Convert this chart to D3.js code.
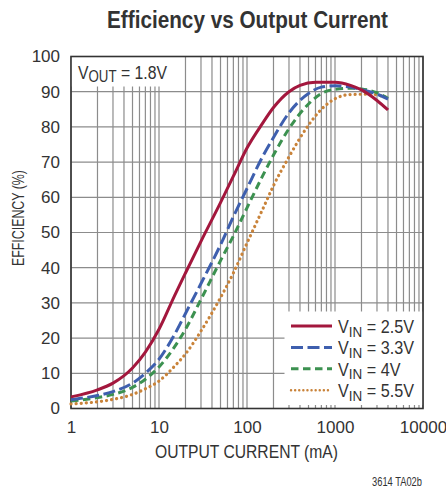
<!DOCTYPE html>
<html>
<head>
<meta charset="utf-8">
<script src="https://cdn.jsdelivr.net/npm/d3@7"></script>
<style>
  html, body { margin: 0; padding: 0; background: #fff; }
  svg { display: block; font-family: "Liberation Sans", Arial, sans-serif; }
</style>
</head>
<body>
<div id="chart"></div>
<script>
// values (current in mA, efficiency in %)
const VIN25_I = [1, 2, 3, 5, 7, 10, 15, 20, 30, 50, 70, 100, 150, 200, 300, 400, 600, 1000, 1500, 2000, 3000, 4000];
const VIN25_EFF = [3.3, 5.3, 7.2, 11.5, 16, 22.5, 32, 38.5, 47.5, 58.5, 66, 74, 81, 85.5, 90, 91.8, 92.7, 92.7, 91.8, 90.5, 87.5, 84.8];

const VIN33_I = [1, 2, 3, 5, 7, 10, 15, 20, 30, 50, 70, 100, 150, 200, 300, 500, 700, 1000, 1500, 2000, 3000, 4000];
const VIN33_EFF = [2.5, 3.7, 4.8, 7.2, 10, 14, 21, 27, 35.5, 46.5, 54.5, 62.5, 71.5, 77, 84, 89.5, 91.3, 91.7, 91.3, 90.6, 89.3, 87.9];

const VIN4_I = [1, 2, 3, 5, 7, 10, 15, 20, 30, 50, 70, 100, 150, 200, 300, 500, 700, 1000, 1500, 2000, 3000, 4000];
const VIN4_EFF = [2.1, 3.1, 4, 6, 8.3, 11.8, 17.5, 22.5, 31, 42, 49, 57, 66, 72, 79.5, 86.5, 89.5, 90.7, 91, 90.8, 89.7, 88.1];

const VIN55_I = [1, 2, 3, 5, 7, 10, 15, 20, 30, 50, 70, 100, 150, 200, 300, 500, 700, 1000, 1500, 2500, 4000];
const VIN55_EFF = [1.3, 1.9, 2.6, 4, 5.6, 7.8, 12, 15.5, 22, 31.5, 38.5, 47, 56.5, 63.3, 71.5, 80.5, 85, 88, 89.2, 89.3, 88.3];

const SERIES_NAMES = ["2.5V", "3.3V", "4V", "5.5V"];
const X_TICKS = [1, 10, 100, 1000, 10000];
const Y_TICKS = [0, 10, 20, 30, 40, 50, 60, 70, 80, 90, 100];

const WIDTH = 446;
const HEIGHT = 489;
const PLOT = { LEFT: 71, RIGHT: 423, TOP: 56.5, BOTTOM: 408.5 };
const TEXT_COLOR = "#333";

const SVG = d3.select("#chart").append("svg")
  .attr("width", WIDTH)
  .attr("height", HEIGHT);

const X_SCALE = d3.scaleLog().domain([1, 10000]).range([PLOT.LEFT, PLOT.RIGHT]);
const Y_SCALE = d3.scaleLinear().domain([0, 100]).range([PLOT.BOTTOM, PLOT.TOP]);

// squeeze a text (with tspans) horizontally to a given width, like a condensed face
const fitWidth = (node, x, y, width, anchor) => {
  const w = node.node().getComputedTextLength();
  const s = width / w;
  const x0 = anchor === "middle" ? x - width / 2 : x;
  node.attr("transform", "translate(" + x0 + "," + y + ") scale(" + s + ",1)");
  return s;
};

// title
SVG.append("text")
  .attr("x", 247.5)
  .attr("y", 27.5)
  .attr("text-anchor", "middle")
  .attr("font-size", 24)
  .attr("font-weight", "bold")
  .attr("fill", TEXT_COLOR)
  .attr("textLength", 281)
  .attr("lengthAdjust", "spacingAndGlyphs")
  .text("Efficiency vs Output Current");

// grid
const X_GRID = [];
[1, 10, 100, 1000].forEach((d) => {
  for (let k = 1; k <= 9; k++) X_GRID.push(d * k);
});
X_GRID.push(10000);

const GRID = SVG.append("g").attr("stroke", "#8c8c8c").attr("stroke-width", 1.2);
GRID.selectAll(".vgrid")
  .data(X_GRID)
  .enter()
  .append("line")
  .attr("x1", (d) => X_SCALE(d))
  .attr("x2", (d) => X_SCALE(d))
  .attr("y1", PLOT.TOP)
  .attr("y2", PLOT.BOTTOM);
GRID.selectAll(".hgrid")
  .data(Y_TICKS)
  .enter()
  .append("line")
  .attr("x1", PLOT.LEFT)
  .attr("x2", PLOT.RIGHT)
  .attr("y1", (d) => Y_SCALE(d))
  .attr("y2", (d) => Y_SCALE(d));

// white boxes behind the labels
SVG.append("rect")
  .attr("x", PLOT.LEFT).attr("y", PLOT.TOP)
  .attr("width", 101).attr("height", 30)
  .attr("fill", "#fff");
SVG.append("rect")
  .attr("x", 284.5).attr("y", 311.5)
  .attr("width", PLOT.RIGHT - 284.5).attr("height", 93.5)
  .attr("fill", "#fff");

// frame
SVG.append("rect")
  .attr("x", PLOT.LEFT).attr("y", PLOT.TOP)
  .attr("width", PLOT.RIGHT - PLOT.LEFT)
  .attr("height", PLOT.BOTTOM - PLOT.TOP)
  .attr("fill", "none")
  .attr("stroke", "#333")
  .attr("stroke-width", 1.6);

// axes
const X_AXIS = d3.axisBottom(X_SCALE)
  .tickValues(X_TICKS)
  .tickFormat(d3.format("d"))
  .tickSize(0)
  .tickPadding(12.5);
const Y_AXIS = d3.axisLeft(Y_SCALE)
  .tickValues(Y_TICKS)
  .tickFormat(d3.format("d"))
  .tickSize(0)
  .tickPadding(11);

const X_G = SVG.append("g")
  .attr("transform", "translate(0," + PLOT.BOTTOM + ")")
  .call(X_AXIS);
const Y_G = SVG.append("g")
  .attr("transform", "translate(" + PLOT.LEFT + ",0)")
  .call(Y_AXIS);
[X_G, Y_G].forEach((g) => {
  g.select(".domain").remove();
  g.selectAll("text")
    .attr("font-family", "'Liberation Sans', Arial, sans-serif")
    .attr("font-size", 17)
    .attr("fill", TEXT_COLOR);
});

SVG.append("text")
  .attr("x", 246.5)
  .attr("y", 458)
  .attr("text-anchor", "middle")
  .attr("font-size", 18.5)
  .attr("fill", TEXT_COLOR)
  .attr("textLength", 183)
  .attr("lengthAdjust", "spacingAndGlyphs")
  .text("OUTPUT CURRENT (mA)");

SVG.append("text")
  .attr("transform", "rotate(-90)")
  .attr("x", -218)
  .attr("y", 23.5)
  .attr("text-anchor", "middle")
  .attr("font-size", 16.5)
  .attr("fill", TEXT_COLOR)
  .attr("textLength", 96)
  .attr("lengthAdjust", "spacingAndGlyphs")
  .text("EFFICIENCY (%)");

// VOUT label
const VOUT = SVG.append("text")
  .attr("font-size", 19)
  .attr("fill", TEXT_COLOR);
VOUT.append("tspan").text("V");
VOUT.append("tspan").attr("dy", 3.5).attr("font-size", 16).text("OUT");
VOUT.append("tspan").attr("dy", -3.5).text(" = 1.8V");
fitWidth(VOUT, 78, 78.5, 89, "start");

// curves
const SERIES = [
  { name: SERIES_NAMES[0], i: VIN25_I, eff: VIN25_EFF, color: "#a3173d", dash: null, cap: "butt" },
  { name: SERIES_NAMES[1], i: VIN33_I, eff: VIN33_EFF, color: "#3e5fae", dash: "12,4.5", cap: "butt" },
  { name: SERIES_NAMES[2], i: VIN4_I, eff: VIN4_EFF, color: "#3c9150", dash: "7.5,4.5", cap: "butt" },
  { name: SERIES_NAMES[3], i: VIN55_I, eff: VIN55_EFF, color: "#c9833a", dash: "0.1,5", cap: "round" }
];

const LINE = d3.line()
  .x((d) => X_SCALE(d[0]))
  .y((d) => Y_SCALE(d[1]))
  .curve(d3.curveMonotoneX);

SVG.selectAll(".curve")
  .data(SERIES.slice().reverse())
  .enter()
  .append("path")
  .attr("class", "curve")
  .attr("d", (s) => LINE(s.i.map((v, k) => [v, s.eff[k]])))
  .attr("fill", "none")
  .attr("stroke", (s) => s.color)
  .attr("stroke-width", (s) => (s.cap === "round" ? 3.2 : 3))
  .attr("stroke-dasharray", (s) => s.dash)
  .attr("stroke-linecap", (s) => s.cap);

// legend
const LEGEND = SVG.selectAll(".legend-row")
  .data(SERIES)
  .enter()
  .append("g")
  .attr("class", "legend-row")
  .attr("transform", (d, i) => "translate(0," + (326 + i * 21.4) + ")");
LEGEND.append("line")
  .attr("x1", 291)
  .attr("x2", 332)
  .attr("stroke", (s) => s.color)
  .attr("stroke-width", (s) => (s.cap === "round" ? 2.4 : 3))
  .attr("stroke-dasharray", (s) => (s.cap === "round" ? "0.1,4" : s.dash))
  .attr("stroke-linecap", (s) => s.cap);
const LEGEND_TEXT = LEGEND.append("text")
  .attr("font-size", 18)
  .attr("fill", TEXT_COLOR);
LEGEND_TEXT.append("tspan").text("V");
LEGEND_TEXT.append("tspan").attr("dy", 3.5).attr("font-size", 15).text("IN");
LEGEND_TEXT.append("tspan").attr("dy", -3.5).text((s) => " = " + s.name);
const LEGEND_SCALE = 76 / LEGEND_TEXT.nodes()[0].getComputedTextLength();
LEGEND_TEXT.attr("transform", "translate(338,7) scale(" + LEGEND_SCALE + ",1)");

SVG.append("text")
  .attr("x", 372)
  .attr("y", 486)
  .attr("font-size", 12)
  .attr("fill", TEXT_COLOR)
  .attr("textLength", 50)
  .attr("lengthAdjust", "spacingAndGlyphs")
  .text("3614 TA02b");
</script>
</body>
</html>
